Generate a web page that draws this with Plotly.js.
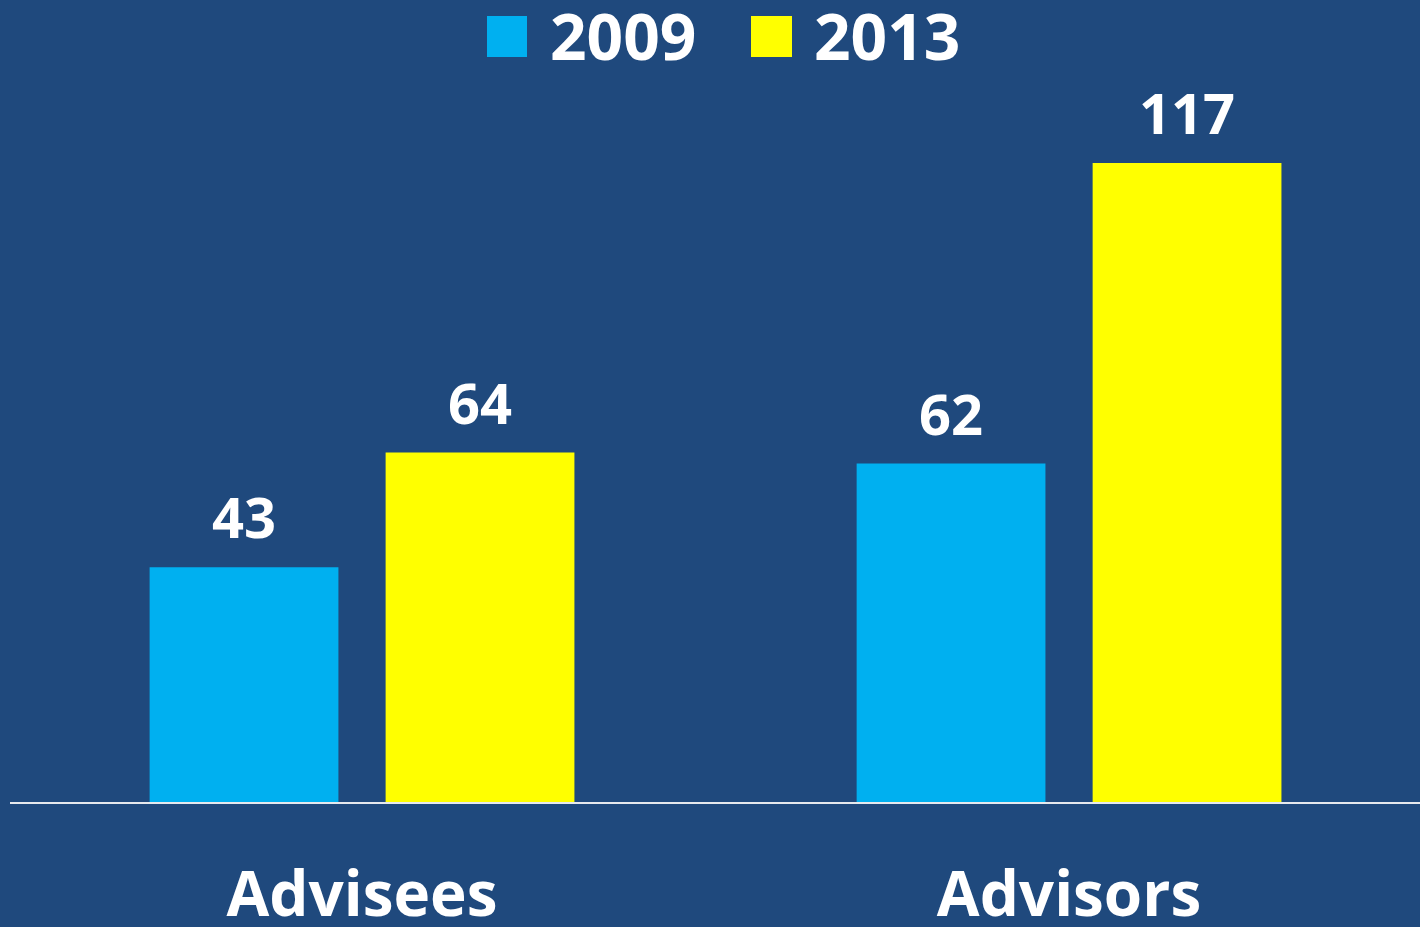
<!DOCTYPE html>
<html>
<head>
<meta charset="utf-8">
<script src="https://cdn.plot.ly/plotly-3.0.1.min.js"></script>
<style>
html,body{margin:0;padding:0;background:#1F497D;}
#chart{width:1420px;height:927px;}
</style>
</head>
<body>
<div id="chart"></div>
<script>
const categories = ["Advisees", "Advisors"];
const seriesNames = ["2009", "2013"];
const values2009 = [43, 62];
const values2013 = [64, 117];
const colors = ["#00B0F0", "#FFFF00"];

const W = 1420, H = 927;
const M = {l: 10, r: 0, t: 80, b: 125};
const FONT = "Open Sans, Lato, Arial, sans-serif";

function px2x(p){ return (p - M.l) / (W - M.l - M.r); }
function px2y(p){ return (H - M.b - p) / (H - M.t - M.b); }

const seriesVals = [values2009, values2013];

const bars = seriesVals.map((vals, i) => ({
  type: "bar",
  name: seriesNames[i],
  x: categories,
  y: vals,
  offsetgroup: String(i),
  marker: {color: colors[i]},
  hoverinfo: "none",
  showlegend: false
}));

// value labels: grouped invisible scatter points carrying the text
const labels = seriesVals.map((vals, i) => ({
  type: "scatter",
  mode: "markers+text",
  x: categories,
  y: vals,
  offsetgroup: String(i),
  text: vals.map(String),
  textposition: "top center",
  cliponaxis: false,
  marker: {size: 22, opacity: 0},
  textfont: {family: FONT, size: 56, color: "#FFFFFF", weight: 700},
  hoverinfo: "none",
  showlegend: false
}));

// legend drawn as shapes + annotations
const legendItems = [
  {sq: [487, 527], txt: 548},
  {sq: [751, 792], txt: 812}
];
const shapes = legendItems.map((it, i) => ({
  type: "rect", xref: "paper", yref: "paper",
  x0: px2x(it.sq[0]), x1: px2x(it.sq[1]),
  y0: px2y(57), y1: px2y(16),
  fillcolor: colors[i], line: {width: 0}
}));
const annotations = legendItems.map((it, i) => ({
  xref: "paper", yref: "paper",
  x: px2x(it.txt), y: px2y(36),
  xanchor: "left", yanchor: "middle",
  text: "<b>" + seriesNames[i] + "</b>",
  showarrow: false,
  font: {family: FONT, size: 64, color: "#FFFFFF"}
}));

const layout = {
  width: W, height: H,
  margin: M,
  paper_bgcolor: "#1F497D",
  plot_bgcolor: "#1F497D",
  barmode: "group",
  scattermode: "group",
  bargap: 0.3324,
  bargroupgap: 0.2,
  scattergap: 0.3324,
  showlegend: false,
  xaxis: {
    type: "category",
    range: [-0.4979, 1.4964],
    showline: true, linecolor: "#E6E9EE", linewidth: 2,
    showgrid: false, zeroline: false,
    ticks: "",
    ticklabelstandoff: 38,
    tickfont: {family: FONT, size: 62, color: "#FFFFFF", weight: 700}
  },
  yaxis: {
    range: [0, 132.2],
    visible: false, showgrid: false, zeroline: false
  },
  shapes: shapes,
  annotations: annotations
};

Plotly.newPlot("chart", bars.concat(labels), layout, {displayModeBar: false, staticPlot: true});
</script>
</body>
</html>
